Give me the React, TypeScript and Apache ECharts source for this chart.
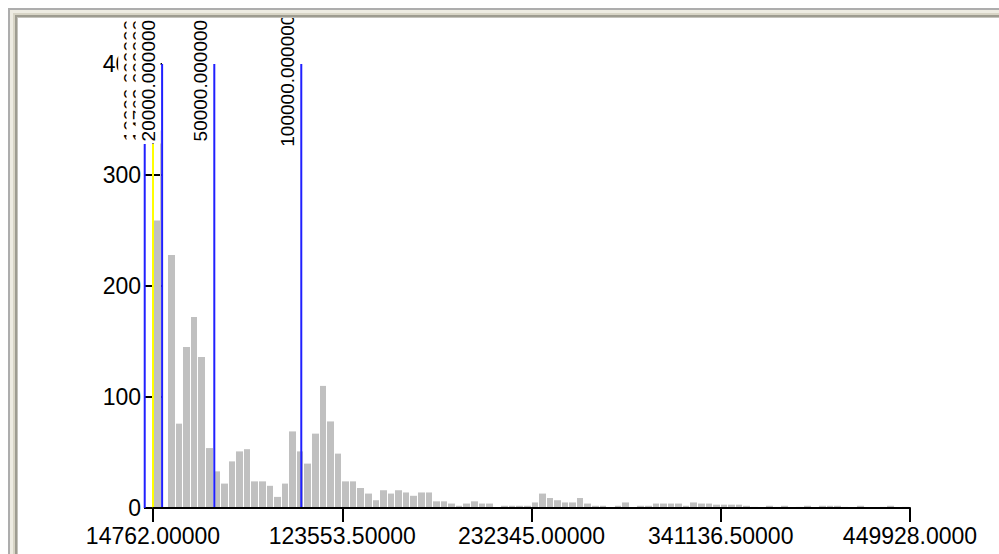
import React, { useEffect, useRef } from "react";
import * as echarts from "echarts";

// ---- data ----
const xMin = 14762;
const xMax = 449928;
const binCount = 100;
const binCounts = [
  259, 0, 228, 76, 145, 172, 136, 54, 33, 22,
  42, 51, 53, 24, 24, 20, 10, 22, 69, 51,
  40, 67, 110, 78, 49, 24, 24, 18, 13, 7,
  16, 13, 16, 14, 11, 14, 14, 6, 6, 4,
  2, 4, 6, 4, 4, 0, 2, 2, 2, 2,
  5, 13, 9, 7, 5, 5, 9, 4, 2, 2,
  0, 2, 5, 0, 2, 2, 4, 4, 4, 4,
  2, 5, 4, 4, 3, 3, 3, 3, 2, 1,
  0, 2, 1, 2, 0, 1, 2, 0, 2, 2,
  2, 1, 0, 2, 0, 0, 1, 2, 0, 1,
];
// narrow tall column just left of the 20000 marker: [from, to, count]
const spikeBars = [[18600, 20000, 340]];

const xTickValues = [14762, 123553.5, 232345, 341136.5, 449928];
const xTickLabels = ["14762.00000", "123553.50000", "232345.00000", "341136.50000", "449928.0000"];
const yMin = 0;
const yMax = 400;
const yInterval = 100;

const markerValues = [10000, 14762, 20000, 50000, 100000];
const markerLabels = ["10000.000000", "14762.000000", "20000.000000", "50000.000000", "100000.000000"];
const markerTops = [328, 328, 400, 400, 400];
const markerColors = ["#2020ff", "#ffff00", "#2020ff", "#2020ff", "#2020ff"];
const markerLabelLevel = 385;

const FONT = "'Liberation Sans', Arial, sans-serif";

export default function App() {
  const ref = useRef<HTMLDivElement>(null);

  useEffect(() => {
    if (!ref.current) return;
    const chart = echarts.init(ref.current, undefined, { renderer: "svg" });
    const binWidth = (xMax - xMin) / binCount;
    const binData = binCounts.map((c, i) => [xMin + i * binWidth, xMin + (i + 1) * binWidth, c]);
    const barData = binData.concat(spikeBars);
    const markerData = markerValues.map((v, i) => [v, markerTops[i], i]);

    const frameTop = [
      { y: 8, h: 2, c: "#adadad" },
      { y: 10, h: 3, c: "#eeece2" },
      { y: 13, h: 2, c: "#d8d5c6" },
      { y: 15, h: 2, c: "#9e9c90" },
      { y: 17, h: 1, c: "#c4c3bc" },
    ];
    const graphic: any[] = [];
    frameTop.forEach((s) => {
      graphic.push({ type: "rect", z: 100, shape: { x: 8, y: s.y, width: 991, height: s.h }, style: { fill: s.c } });
    });
    frameTop.forEach((s) => {
      graphic.push({ type: "rect", z: 100, shape: { x: s.y, y: s.y, width: s.h, height: 554 - s.y }, style: { fill: s.c } });
    });

    const option: any = {
      animation: false,
      backgroundColor: "#ffffff",
      grid: { left: 153, right: 89, top: 64, bottom: 46, containLabel: false, outerBoundsMode: "none" },
      xAxis: {
        type: "value",
        min: xMin,
        max: xMax,
        z: 3,
        splitLine: { show: false },
        axisLine: { show: true, lineStyle: { color: "#000", width: 2 } },
        axisTick: { show: true, customValues: xTickValues, length: 14, lineStyle: { color: "#000", width: 2 } },
        axisLabel: {
          customValues: xTickValues,
          margin: 16,
          fontSize: 23,
          fontFamily: FONT,
          color: "#000",
          formatter: (v: number) => {
            const i = xTickValues.findIndex((t) => Math.abs(t - v) < 1e-6);
            return i >= 0 ? xTickLabels[i] : "";
          },
        },
      },
      yAxis: [
        {
          type: "value",
          min: yMin,
          max: yMax,
          interval: yInterval,
          splitLine: { show: false },
          axisLine: { show: true, lineStyle: { color: "#000", width: 2 } },
          axisTick: { show: true, length: 9, lineStyle: { color: "#000", width: 2 } },
          axisLabel: { margin: 12, fontSize: 23, fontFamily: FONT, color: "#000" },
        },
        {
          type: "value",
          min: yMin,
          max: yMax,
          interval: yInterval,
          position: "left",
          splitLine: { show: false },
          axisLine: { show: false },
          axisTick: { show: true, inside: true, length: 9, lineStyle: { color: "#000", width: 2 } },
          axisLabel: { show: false },
        },
      ],
      graphic,
      series: [
        {
          type: "custom",
          name: "histogram",
          data: barData,
          encode: { x: [0, 1], y: 2 },
          renderItem: (params: any, api: any) => {
            const v = api.value(2);
            if (!(v > 0)) return null;
            const p0 = api.coord([api.value(0), v]);
            const p1 = api.coord([api.value(1), 0]);
            const x = Math.round(p0[0]);
            const w = Math.max(Math.round(p1[0]) - x - 1, 1);
            return {
              type: "rect",
              shape: { x, y: p0[1], width: w, height: p1[1] - p0[1] },
              style: { fill: "#c0c0c0" },
            };
          },
        },
        {
          type: "custom",
          name: "markers",
          data: markerData,
          clip: false,
          encode: { x: 0, y: 1 },
          renderItem: (params: any, api: any) => {
            const v = api.value(0);
            const top = api.value(1);
            const i = api.value(2);
            const pb = api.coord([v, 0]);
            const pt = api.coord([v, top]);
            const pl = api.coord([v, markerLabelLevel]);
            return {
              type: "group",
              children: [
                {
                  type: "line",
                  shape: { x1: pb[0], y1: pb[1], x2: pt[0], y2: pt[1] },
                  style: { stroke: markerColors[i], lineWidth: 2 },
                },
                {
                  type: "text",
                  x: pl[0] - 14,
                  y: pl[1],
                  rotation: Math.PI / 2,
                  style: {
                    text: markerLabels[i],
                    fontSize: 19,
                    fontFamily: FONT,
                    fill: "#000",
                    align: "center",
                    verticalAlign: "middle",
                    backgroundColor: "#ffffff",
                    padding: [3, 2, 3, 2],
                  },
                },
              ],
            };
          },
        },
      ],
    };
    chart.setOption(option);
    return () => chart.dispose();
  }, []);

  return (
    <div
      ref={ref}
      style={{ position: "fixed", left: 0, top: 0, width: 999, height: 554, background: "#fff" }}
    />
  );
}
